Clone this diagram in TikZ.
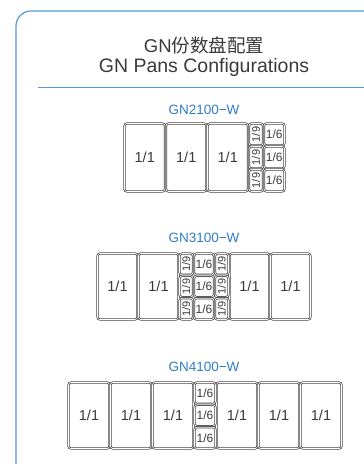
\documentclass[tikz,border=0pt]{standalone}
\usepackage{fontspec}
\setmainfont{Liberation Sans}
\newfontfamily\cjk{Noto Sans CJK SC}
\definecolor{frameblue}{HTML}{5596D8}
\definecolor{labelblue}{HTML}{2F7CC6}
\definecolor{txt}{HTML}{3A3A3A}
\definecolor{panline}{HTML}{4A4545}
\tikzset{
  pan/.style={draw=panline, double=white, double distance=0.7pt, line width=0.75pt,
    rounded corners=2.5pt, inner sep=0pt, outer sep=0pt, anchor=north west,
    text=txt},
  big/.style={font=\fontsize{14.5}{14.5}\selectfont},
  six/.style={font=\fontsize{12}{12}\selectfont},
  nine/.style={font=\fontsize{11}{11}\selectfont},
  model/.style={text=labelblue, font=\fontsize{13.5}{13.5}\selectfont, inner sep=0pt},
}
\begin{document}
\begin{tikzpicture}[x=1pt,y=-1pt]
\useasboundingbox (0,0) rectangle (364,464);
% frame
\draw[frameblue, line width=1.2pt, rounded corners=15pt] (16,480) -- (16,11) -- (380,11);
\draw[frameblue, line width=0.9pt] (38,87) -- (364,87);
% titles
\node[text=txt, font=\fontsize{18.5}{18.5}\selectfont, inner sep=0pt] (t1) at (204,45) {GN{\cjk 份数盘配置}};
\node[text=txt, font=\fontsize{19.5}{19.5}\selectfont, inner sep=0pt] (t2) at (204,67) {GN Pans Configurations};
% ---------- GN2100-W
\node[model] (m1) at (204,110) {GN2100−W};
\foreach \x [count=\i] in {124,165.5,207}
  \node[pan, big, minimum width=40.5pt, minimum height=68pt] (a\i) at (\x+0.5,123.5) {1/1};
\foreach \y [count=\i] in {123,146,169}{
  \node[pan, nine, minimum width=14pt, minimum height=22pt] (a9\i) at (249,\y+0.5) {\rotatebox{90}{1/9}};
  \node[pan, six, minimum width=20.5pt, minimum height=22pt] (a6\i) at (264,\y+0.5) {1/6};
}
% ---------- GN3100-W
\node[model] (m2) at (204,238) {GN3100−W};
\foreach \x [count=\i] in {97,138,229,270}
  \node[pan, big, minimum width=40pt, minimum height=66pt] (b\i) at (\x+0.5,253.5) {1/1};
\foreach \y [count=\i] in {253,275.33,297.67}{
  \node[pan, nine, minimum width=13.5pt, minimum height=21.3pt] (b9l\i) at (179.5,\y+0.5) {\rotatebox{90}{1/9}};
  \node[pan, six, minimum width=20pt, minimum height=21.3pt] (b6\i) at (194,\y+0.5) {1/6};
  \node[pan, nine, minimum width=13.5pt, minimum height=21.3pt] (b9r\i) at (215,\y+0.5) {\rotatebox{90}{1/9}};
}
% ---------- GN4100-W
\node[model] (m3) at (204,367) {GN4100−W};
\foreach \x [count=\i] in {68,110,152,216,258,300}
  \node[pan, big, minimum width=41pt, minimum height=66pt] (c\i) at (\x+0.5,382.5) {1/1};
\foreach \y [count=\i] in {382,404.33,426.67}
  \node[pan, six, minimum width=21pt, minimum height=21.3pt] (c6\i) at (194.5,\y+0.5) {1/6};
\end{tikzpicture}
\end{document}
